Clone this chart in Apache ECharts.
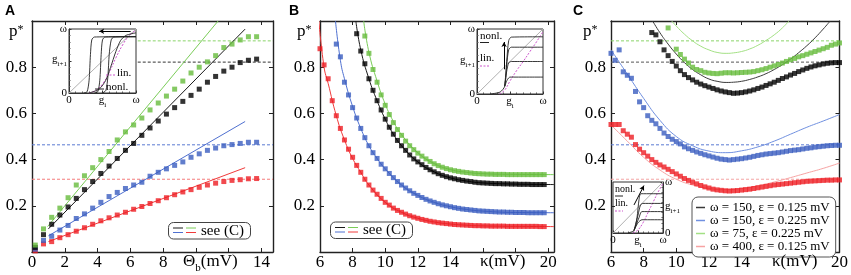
<!DOCTYPE html>
<html>
<head>
<meta charset="utf-8">
<script src="https://cdn.jsdelivr.net/npm/echarts@6/dist/echarts.min.js"></script>
<style>html,body{margin:0;padding:0;background:#fff}#chart{width:851px;height:275px}</style>
</head>
<body>
<div id="chart"></div>
<script>
var myChart = echarts.init(document.getElementById('chart'));
var SERIF = 'Liberation Serif, Times New Roman, DejaVu Serif, serif';

// ---- panel A : p* against Theta_b (mV)
var thetaB = [0.2, 0.7, 1.2, 1.7, 2.2, 2.7, 3.2, 3.7, 4.2, 4.7, 5.2, 5.7, 6.2, 6.7,
              7.2, 7.7, 8.2, 8.7, 9.2, 9.7, 10.2, 10.7, 11.2, 11.7, 12.2, 12.7, 13.2, 13.7];
var aGreen = [0.03, 0.10, 0.15, 0.19, 0.235, 0.29, 0.33, 0.365, 0.40, 0.435, 0.485, 0.52, 0.55, 0.58,
              0.615, 0.645, 0.675, 0.705, 0.74, 0.775, 0.80, 0.823, 0.85, 0.885, 0.90, 0.918, 0.932, 0.932];
var aBlack = [0.02, 0.075, 0.12, 0.16, 0.195, 0.232, 0.27, 0.305, 0.34, 0.372, 0.405, 0.44, 0.47, 0.505,
              0.537, 0.567, 0.597, 0.625, 0.652, 0.678, 0.705, 0.735, 0.76, 0.783, 0.80, 0.82, 0.83, 0.835];
var aBlue  = [0.012, 0.05, 0.068, 0.095, 0.115, 0.145, 0.165, 0.19, 0.215, 0.24, 0.258, 0.275, 0.29, 0.302,
              0.328, 0.345, 0.36, 0.375, 0.39, 0.41, 0.425, 0.44, 0.45, 0.46, 0.465, 0.47, 0.475, 0.475];
var aRed   = [0.005, 0.035, 0.045, 0.062, 0.075, 0.09, 0.105, 0.12, 0.135, 0.148, 0.16, 0.172, 0.185, 0.197,
              0.21, 0.222, 0.235, 0.248, 0.26, 0.27, 0.28, 0.29, 0.298, 0.305, 0.31, 0.313, 0.317, 0.318];
var aGreenFit = [[0.95, 0.11], [11.35, 1.0]];
var aBlackFit = [[1.0, 0.10], [13.0, 0.965]];
var aBlueFit  = [[1.0, 0.07], [13.0, 0.565]];
var aRedFit   = [[1.0, 0.045], [13.0, 0.365]];

// plateau predictions (dashed), order: green, black, blue, red
var levels = [0.914, 0.822, 0.464, 0.315];

// ---- panels B and C : p* against kappa (mV)
var kappa = [6, 6.25, 6.5, 6.75, 7, 7.25, 7.5, 7.75, 8, 8.25, 8.5, 8.75, 9, 9.25, 9.5, 9.75,
             10, 10.25, 10.5, 10.75, 11, 11.25, 11.5, 11.75, 12, 12.25, 12.5, 12.75, 13, 13.25, 13.5, 13.75,
             14, 14.25, 14.5, 14.75, 15, 15.25, 15.5, 15.75, 16, 16.25, 16.5, 16.75, 17, 17.25, 17.5, 17.75,
             18, 18.25, 18.5, 18.75, 19, 19.25, 19.5, 19.75, 20];

var bRed = [0.88, 0.81, 0.75, 0.655, 0.59, 0.535, 0.485, 0.445, 0.41, 0.375,
            0.345, 0.315, 0.29, 0.268, 0.25, 0.232, 0.215, 0.203, 0.19, 0.18,
            0.172, 0.164, 0.157, 0.151, 0.146, 0.141, 0.137, 0.133, 0.13, 0.127,
            0.125, 0.123, 0.121, 0.119, 0.118, 0.117, 0.116, 0.115, 0.114, 0.114,
            0.113, 0.113, 0.112, 0.112, 0.112, 0.112, 0.111, 0.111, 0.111, 0.111,
            0.111, 0.111, 0.111, 0.111, 0.11, 0.11, null];
var bBlue = [null, null, null, null, 0.90, 0.845, 0.735, 0.68, 0.625, 0.58,
             0.535, 0.495, 0.46, 0.43, 0.405, 0.38, 0.36, 0.34, 0.322, 0.305,
             0.29, 0.277, 0.265, 0.254, 0.245, 0.236, 0.228, 0.221, 0.215, 0.209,
             0.204, 0.2, 0.196, 0.192, 0.189, 0.186, 0.184, 0.182, 0.18, 0.178,
             0.177, 0.176, 0.175, 0.174, 0.173, 0.173, 0.172, 0.172, 0.171, 0.171,
             0.171, 0.17, 0.17, 0.17, 0.17, 0.17, null];
var bBlack = [null, null, null, null, null, null, null, null, null, 0.945,
              0.87, 0.815, 0.75, 0.70, 0.655, 0.615, 0.575, 0.54, 0.51, 0.483,
              0.46, 0.44, 0.42, 0.403, 0.39, 0.378, 0.366, 0.356, 0.347, 0.339,
              0.332, 0.326, 0.321, 0.317, 0.313, 0.31, 0.307, 0.305, 0.302, 0.30,
              0.299, 0.298, 0.297, 0.296, 0.296, 0.295, 0.295, 0.294, 0.294, 0.293,
              0.293, 0.293, 0.292, 0.292, 0.292, 0.292, null];
var bGreen = [null, null, null, null, null, null, null, null, null, null,
              null, 0.935, 0.86, 0.79, 0.735, 0.68, 0.635, 0.595, 0.56, 0.53,
              0.505, 0.48, 0.46, 0.443, 0.428, 0.415, 0.403, 0.392, 0.382, 0.374,
              0.367, 0.361, 0.356, 0.352, 0.349, 0.346, 0.344, 0.342, 0.34, 0.339,
              0.338, 0.337, 0.337, 0.336, 0.336, 0.336, 0.335, 0.335, 0.335, 0.335,
              0.335, 0.335, 0.335, 0.335, 0.335, 0.335, null];
var bRedFit   = [[5.93, 1.0], [6.25, 0.8], [6.5, 0.73], [7, 0.59], [7.5, 0.485], [8, 0.405], [8.5, 0.345],
                 [9, 0.29], [10, 0.215], [11, 0.172], [12, 0.146], [13, 0.13], [14, 0.121], [15, 0.116],
                 [16, 0.113], [18, 0.111], [20.35, 0.11]];
var bBlueFit  = [[6.95, 1.0], [7.25, 0.83], [7.5, 0.75], [8, 0.63], [8.5, 0.535], [9, 0.46], [9.5, 0.405],
                 [10, 0.36], [11, 0.29], [12, 0.245], [13, 0.215], [14, 0.196], [15, 0.184], [16, 0.177],
                 [18, 0.171], [20.35, 0.17]];
var bBlackFit = [[8.2, 1.0], [8.5, 0.875], [9, 0.75], [9.5, 0.655], [10, 0.575], [10.5, 0.51], [11, 0.46],
                 [12, 0.39], [13, 0.347], [14, 0.321], [15, 0.307], [16, 0.299], [18, 0.294], [20.35, 0.292]];
var bGreenFit = [[8.68, 1.0], [9, 0.865], [9.5, 0.74], [10, 0.64], [10.5, 0.565], [11, 0.508], [12, 0.43],
                 [13, 0.383], [14, 0.357], [15, 0.345], [16, 0.339], [18, 0.336], [20.35, 0.335]];

var cBlue = [0.86, 0.83, 0.875, 0.78, 0.765, 0.752, 0.695, 0.65, 0.625, 0.59,
             0.57, 0.555, 0.535, 0.515, 0.50, 0.488, 0.478, 0.468, 0.455, 0.447,
             0.44, 0.433, 0.427, 0.421, 0.416, 0.411, 0.406, 0.402, 0.40, 0.398,
             0.40, 0.402, 0.404, 0.407, 0.41, 0.414, 0.418, 0.421, 0.424, 0.426,
             0.428, 0.43, 0.433, 0.436, 0.439, 0.441, 0.443, 0.446, 0.449, 0.451,
             0.454, 0.456, 0.458, 0.46, 0.461, 0.462, 0.462];
var cRed = [0.552, 0.552, 0.552, 0.525, 0.51, 0.497, 0.465, 0.445, 0.43, 0.415,
            0.40, 0.388, 0.377, 0.368, 0.358, 0.348, 0.338, 0.328, 0.318, 0.31,
            0.302, 0.295, 0.288, 0.282, 0.277, 0.272, 0.269, 0.267, 0.265, 0.264,
            0.265, 0.266, 0.268, 0.27, 0.272, 0.275, 0.278, 0.281, 0.284, 0.287,
            0.29, 0.292, 0.294, 0.296, 0.298, 0.30, 0.302, 0.304, 0.306, 0.307,
            0.308, 0.309, 0.31, 0.311, 0.311, 0.312, 0.312];
var cBlack = [null, null, null, null, null, null, null, null, null, null,
              0.95, 0.94, 0.91, 0.875, 0.85, 0.825, 0.805, 0.785, 0.768, 0.755,
              0.745, 0.735, 0.727, 0.72, 0.714, 0.708, 0.702, 0.697, 0.693, 0.69,
              0.687, 0.688, 0.69, 0.693, 0.697, 0.702, 0.708, 0.714, 0.721, 0.728,
              0.735, 0.743, 0.751, 0.758, 0.766, 0.773, 0.781, 0.788, 0.795, 0.801,
              0.806, 0.81, 0.814, 0.817, 0.819, 0.82, 0.82];
var cGreen = [null, null, null, null, null, null, null, null, null, null,
              null, null, null, null, 0.97, null, 0.878, 0.855, 0.835, 0.818,
              0.80, 0.79, 0.785, 0.778, 0.775, 0.773, 0.772, 0.774, 0.776, 0.776,
              0.775, 0.776, 0.777, 0.778, 0.779, 0.781, 0.785, 0.789, 0.794, 0.80,
              0.806, 0.812, 0.818, 0.825, 0.832, 0.838, 0.845, 0.85, 0.856, 0.862,
              0.868, 0.874, 0.88, 0.886, 0.895, 0.90, 0.905];
var cBlackFit = [[8.55, 1.0], [9, 0.949], [9.5, 0.9], [10, 0.857], [10.5, 0.82], [11, 0.79], [11.5, 0.767],
                 [12, 0.749], [12.5, 0.739], [13.1, 0.734], [13.5, 0.735], [14, 0.739], [14.5, 0.747],
                 [15, 0.758], [15.5, 0.772], [16, 0.79], [16.5, 0.811], [17, 0.835], [17.5, 0.863],
                 [18, 0.893], [18.5, 0.927], [19, 0.965], [19.43, 1.0]];
var cGreenFit = [[9.72, 1.0], [10, 0.978], [10.5, 0.943], [11, 0.914], [11.5, 0.891], [12, 0.875], [12.5, 0.864],
                 [13.1, 0.86], [13.5, 0.862], [14, 0.868], [14.5, 0.879], [15, 0.895], [15.5, 0.916],
                 [16, 0.94], [16.5, 0.97], [16.9, 1.0]];
var cBlueFit  = [[6, 0.875], [7, 0.77], [8, 0.665], [9, 0.57], [10, 0.5], [11, 0.46], [12, 0.437], [13, 0.43],
                 [14, 0.438], [15, 0.455], [16, 0.48], [17, 0.51], [18, 0.54], [19, 0.567], [20, 0.595]];
var cRedFit   = [[6, 0.55], [7, 0.48], [8, 0.41], [9, 0.355], [10, 0.315], [11, 0.29], [12, 0.275], [13, 0.27],
                 [14, 0.275], [15, 0.287], [16, 0.303], [17, 0.322], [18, 0.342], [19, 0.362], [20, 0.385]];
var cNames = ['ω = 150, ε = 0.125 mV', 'ω = 150, ε = 0.225 mV', 'ω = 75, ε = 0.225 mV', 'ω = 400, ε = 0.125 mV'];

// ---- insets: transfer maps g_{i+1}(g_i), both axes 0..omega
var diag = [[0, 0], [1, 1]];
var insA = {
  lin: [[0.3, 0], [0.4, 0.04], [0.5, 0.14], [0.6, 0.32], [0.7, 0.55], [0.8, 0.75], [0.9, 0.9], [1, 0.98]],
  nonl: [
    [[0.22, 0], [0.27, 0.02], [0.3, 0.2], [0.32, 0.6], [0.34, 0.83], [0.38, 0.875], [1, 0.88]],
    [[0.38, 0], [0.43, 0.02], [0.46, 0.2], [0.48, 0.6], [0.5, 0.83], [0.54, 0.875], [1, 0.88]],
    [[0.5, 0], [0.55, 0.04], [0.58, 0.25], [0.6, 0.6], [0.63, 0.83], [0.67, 0.875], [1, 0.88]],
    [[0.3, 0], [0.45, 0.06], [0.55, 0.2], [0.62, 0.4], [0.7, 0.65], [0.77, 0.82], [0.85, 0.9], [1, 0.94]]
  ]
};
var insB = {
  lin: [[0.34, 0.0], [0.42, 0.06], [0.5, 0.2], [0.6, 0.36], [0.7, 0.5], [0.8, 0.65], [0.9, 0.8], [1, 0.96]],
  nonl: [
    [[0.2, 0], [0.35, 0.03], [0.42, 0.12], [0.45, 0.5], [0.48, 0.82], [0.52, 0.875], [1, 0.88]],
    [[0.42, 0.12], [0.45, 0.45], [0.48, 0.68], [0.52, 0.72], [1, 0.72]],
    [[0.42, 0.12], [0.45, 0.35], [0.48, 0.48], [0.52, 0.5], [1, 0.5]],
    [[0.42, 0.12], [0.46, 0.22], [0.5, 0.26], [1, 0.26]]
  ]
};
var insC = {
  lin: [[0.4, 0], [0.5, 0.06], [0.6, 0.2], [0.7, 0.4], [0.8, 0.6], [0.9, 0.8], [1, 0.97]],
  nonl: [
    [[0.3, 0], [0.42, 0.05], [0.48, 0.3], [0.52, 0.65], [0.56, 0.77], [1, 0.77]],
    [[0.42, 0.05], [0.5, 0.35], [0.55, 0.55], [0.6, 0.58], [1, 0.58]],
    [[0.42, 0.05], [0.52, 0.3], [0.58, 0.42], [1, 0.42]],
    [[0.42, 0.05], [0.5, 0.2], [0.58, 0.26], [1, 0.26]]
  ]
};

// ---- colours
var dotCol  = { green: '#66bb3c', black: '#000000', blue: '#3a5cbf', red: '#ee1d23' };
var fitCol  = { green: '#7acc58', black: '#1a1a1a', blue: '#4f70d0', red: '#f03a3a' };
var dashCol = { green: '#8ad46a', black: '#333333', blue: '#5a7ad2', red: '#f47a7a' };
var cFitCol = { green: '#a3e084', black: '#3a3a3a', blue: '#7090e0', red: '#f7a3a3' };
var MAG = '#cc55cc';

function pts(xs, ys) {
  var out = [];
  for (var i = 0; i < xs.length; i++) if (ys[i] != null) out.push([xs[i], ys[i]]);
  return out;
}
function dots(xs, ys, color, ax) {
  return { type: 'scatter', xAxisIndex: ax, yAxisIndex: ax, data: pts(xs, ys), symbol: 'rect',
           symbolSize: 5, itemStyle: { color: color }, silent: true, z: 3 };
}
function curve(data, color, ax, extra) {
  var s = { type: 'line', xAxisIndex: ax, yAxisIndex: ax, data: data, symbol: 'none', showSymbol: false,
            smooth: 0.5, silent: true, itemStyle: { color: color },
            lineStyle: { color: color, width: 1 }, z: 2 };
  if (extra) for (var k in extra) s[k] = extra[k];
  return s;
}
function level(y, x0, x1, color, ax) {
  return curve([[x0, y], [x1, y]], color, ax, { smooth: false, lineStyle: { color: color, width: 1, type: [3, 2] } });
}

// ---- axes
var axisColor = '#222';
function mainX(grid, min, max, top) {
  return {
    type: 'value', gridIndex: grid, min: min, max: max, interval: 2, position: top ? 'top' : 'bottom',
    axisLine: { show: true, onZero: false, lineStyle: { color: axisColor, width: 1.4 } },
    axisTick: { show: true, inside: true, length: 4, lineStyle: { color: axisColor } },
    axisLabel: { show: !top, margin: 2, fontSize: 17, fontFamily: SERIF, color: '#000',
      formatter: function (v) {
        if (Math.abs(v - Math.round(v)) > 1e-6) return '';
        if (min === 0 && (v === 10 || v === 12)) return '';
        if (min === 6 && (v === 16 || v === 18)) return '';
        return String(v);
      } },
    splitLine: { show: false }
  };
}
function mainY(grid, right) {
  return {
    type: 'value', gridIndex: grid, min: 0, max: 1, interval: 0.2, position: right ? 'right' : 'left',
    axisLine: { show: true, onZero: false, lineStyle: { color: axisColor, width: 1.4 } },
    axisTick: { show: true, inside: true, length: 4, lineStyle: { color: axisColor } },
    axisLabel: { show: !right, margin: 5, fontSize: 17, fontFamily: SERIF, color: '#000',
      formatter: function (v) { return (v > 0.05 && v < 0.95) ? v.toFixed(1) : ''; } },
    splitLine: { show: false }
  };
}
var subRich = {
  g: { fontSize: 11, fontFamily: SERIF, color: '#000', verticalAlign: 'top', padding: [0, 0, 3, 0] },
  s: { fontSize: 7, fontFamily: SERIF, color: '#000', verticalAlign: 'bottom' }
};
function insetAxis(grid, isY, pos) {
  return {
    type: 'value', gridIndex: grid, min: 0, max: 1, interval: 0.5, position: pos,
    axisLine: { show: true, onZero: false, lineStyle: { color: '#333', width: 1 } },
    axisTick: { show: true, inside: true, length: 2.5, lineStyle: { color: '#333' } },
    minorTick: { show: true, splitNumber: 5, length: 1.5, lineStyle: { color: '#555' } },
    axisLabel: { margin: 2, fontSize: 11, fontFamily: SERIF, color: '#000', rich: subRich,
      formatter: function (v) {
        if (v === 0) return '0';
        if (v === 1) return 'ω';
        return isY ? '{g|g}{s|i+1}' : '{g|g}{s|i}';
      } },
    splitLine: { show: false }
  };
}

// ---- series
var series = [];
// panel A
series.push(level(levels[0], 6.45, 14.7, dashCol.green, 0));
series.push(level(levels[1], 6.45, 14.7, dashCol.black, 0));
series.push(level(levels[2], 0, 14.7, dashCol.blue, 0));
series.push(level(levels[3], 0, 14.7, dashCol.red, 0));
series.push(curve(aGreenFit, fitCol.green, 0, { smooth: false }));
series.push(curve(aBlackFit, fitCol.black, 0, { smooth: false }));
series.push(curve(aBlueFit, fitCol.blue, 0, { smooth: false }));
series.push(curve(aRedFit, fitCol.red, 0, { smooth: false }));
series.push(dots(thetaB, aRed, dotCol.red, 0));
series.push(dots(thetaB, aBlue, dotCol.blue, 0));
series.push(dots(thetaB, aBlack, dotCol.black, 0));
series.push(dots(thetaB, aGreen, dotCol.green, 0));
// panel B
series.push(curve(bRedFit, fitCol.red, 2));
series.push(curve(bBlueFit, fitCol.blue, 2));
series.push(curve(bBlackFit, fitCol.black, 2));
series.push(curve(bGreenFit, fitCol.green, 2));
series.push(dots(kappa, bRed, dotCol.red, 2));
series.push(dots(kappa, bBlue, dotCol.blue, 2));
series.push(dots(kappa, bBlack, dotCol.black, 2));
series.push(dots(kappa, bGreen, dotCol.green, 2));
// panel C
series.push(level(levels[0], 6, 20, dashCol.green, 4));
series.push(level(levels[1], 6, 20, '#555', 4));
series.push(level(levels[2], 6, 20, dashCol.blue, 4));
series.push(level(levels[3], 6, 20, '#f4a5a5', 4));
series.push(curve(cBlackFit, cFitCol.black, 4, { name: cNames[0] }));
series.push(curve(cBlueFit, cFitCol.blue, 4, { name: cNames[1] }));
series.push(curve(cGreenFit, cFitCol.green, 4, { name: cNames[2] }));
series.push(curve(cRedFit, cFitCol.red, 4, { name: cNames[3] }));
series.push(dots(kappa, cRed, dotCol.red, 4));
series.push(dots(kappa, cBlue, dotCol.blue, 4));
series.push(dots(kappa, cBlack, dotCol.black, 4));
series.push(dots(kappa, cGreen, dotCol.green, 4));

// insets
function insetSeries(ins, ax, arrow) {
  series.push(curve(diag, '#b0b0b0', ax, { smooth: false, markLine: {
    silent: true, symbol: ['none', 'arrow'], symbolSize: [4, 5], label: { show: false },
    lineStyle: { color: '#000', type: 'solid', width: 1 }, data: [arrow] } }));
  series.push(curve(ins.lin, MAG, ax, { smooth: 0.4, lineStyle: { color: MAG, width: 1, type: [2, 1.5] } }));
  ins.nonl.forEach(function (c) {
    series.push(curve(c, '#222', ax, { smooth: 0.25, lineStyle: { color: '#222', width: 0.9 } }));
  });
}
insetSeries(insA, 6, [{ coord: [0.92, 0.965] }, { coord: [0.45, 0.965] }]);
insetSeries(insB, 7, [{ coord: [0.41, 0.38] }, { coord: [0.41, 0.8] }]);
insetSeries(insC, 8, [{ coord: [0.42, 0.55] }, { coord: [0.62, 0.93] }]);

// ---- texts and small keys
function txt(x, y, text, size, extra) {
  var st = { text: text, fontSize: size, fontFamily: SERIF, fill: '#000', verticalAlign: 'middle' };
  if (extra) for (var k in extra) st[k] = extra[k];
  return { type: 'text', x: x, y: y, z: 100, style: st };
}
function seg(x1, y1, x2, y2, color, dash) {
  return { type: 'line', z: 100, shape: { x1: x1, y1: y1, x2: x2, y2: y2 },
           style: { stroke: color, lineWidth: 1, lineDash: dash || null } };
}
var pRich = { p: { fontSize: 17, fontFamily: SERIF }, s: { fontSize: 12, fontFamily: SERIF, verticalAlign: 'top' } };
var thRich = { a: { fontSize: 17, fontFamily: SERIF, verticalAlign: 'top', padding: [0, 0, 4, 0] },
               b: { fontSize: 11, fontFamily: SERIF, verticalAlign: 'bottom' } };
var letter = { fontFamily: 'Liberation Sans, Arial, sans-serif', fontWeight: 'bold' };

var graphic = [
  txt(5, 11, 'A', 14, letter), txt(289, 11, 'B', 14, letter), txt(573, 11, 'C', 14, letter),
  txt(9, 32, '{p|p}{s|*}', 17, { rich: pRich }),
  txt(297, 32, '{p|p}{s|*}', 17, { rich: pRich }),
  txt(583, 32, '{p|p}{s|*}', 17, { rich: pRich }),
  txt(183, 253, '{a|Θ}{b|b}{a|(mV)}', 17, { rich: thRich, verticalAlign: 'top' }),
  txt(480, 262, 'κ(mV)', 17), txt(772, 262, 'κ(mV)', 17),
  // "see (C)" keys
  { type: 'rect', z: 99, shape: { x: 168.5, y: 222.5, width: 82, height: 16.5, r: 5 }, style: { fill: '#fff', stroke: '#444', lineWidth: 1 } },
  seg(173, 228, 183, 228, fitCol.black), seg(186, 228, 196, 228, fitCol.green),
  seg(173, 232.5, 183, 232.5, fitCol.blue), seg(186, 232.5, 196, 232.5, fitCol.red),
  txt(201, 231, 'see (C)', 15),
  { type: 'rect', z: 99, shape: { x: 330.5, y: 222, width: 82, height: 16.5, r: 5 }, style: { fill: '#fff', stroke: '#444', lineWidth: 1 } },
  seg(335, 227.5, 345, 227.5, fitCol.black), seg(348, 227.5, 358, 227.5, fitCol.green),
  seg(335, 232, 345, 232, fitCol.blue), seg(348, 232, 358, 232, fitCol.red),
  txt(363, 230.5, 'see (C)', 15),
  // inset keys
  seg(106, 75, 115, 75, MAG, [2, 1.5]), txt(117, 73.5, 'lin.', 11),
  seg(95, 89, 104, 89, '#222'), txt(106, 87.5, 'nonl.', 11),
  txt(480, 36, 'nonl.', 11), seg(480, 42.5, 489, 42.5, '#222'),
  txt(480, 58, 'lin.', 11), seg(480, 66, 489, 66, MAG, [2, 1.5]),
  txt(615, 189.5, 'nonl.', 10), seg(615, 196, 623, 196, '#222'),
  txt(615, 203, 'lin.', 10), seg(615, 211, 623, 211, MAG, [2, 1.5])
];

var option = {
  animation: false,
  backgroundColor: '#fff',
  textStyle: { fontFamily: SERIF },
  grid: [
    { left: 32, top: 21, width: 241, height: 231 },
    { left: 320, top: 21, width: 234, height: 231 },
    { left: 611, top: 21, width: 229, height: 231 },
    { left: 69, top: 29, width: 67, height: 64, show: true, backgroundColor: '#fff', borderColor: '#333', borderWidth: 1 },
    { left: 477, top: 29, width: 66, height: 65, show: true, backgroundColor: '#fff', borderColor: '#333', borderWidth: 1 },
    { left: 613, top: 182, width: 50, height: 51, show: true, backgroundColor: '#fff', borderColor: '#333', borderWidth: 1 }
  ],
  xAxis: [
    mainX(0, 0, 14.7, false), mainX(0, 0, 14.7, true),
    mainX(1, 6, 20.35, false), mainX(1, 6, 20.35, true),
    mainX(2, 6, 20, false), mainX(2, 6, 20, true),
    insetAxis(3, false, 'bottom'), insetAxis(4, false, 'bottom'), insetAxis(5, false, 'bottom')
  ],
  yAxis: [
    mainY(0, false), mainY(0, true),
    mainY(1, false), mainY(1, true),
    mainY(2, false), mainY(2, true),
    insetAxis(3, true, 'left'), insetAxis(4, true, 'left'), insetAxis(5, true, 'right')
  ],
  legend: {
    data: cNames, orient: 'vertical', left: 692, top: 197, padding: [4, 6, 4, 4], itemGap: 0,
    itemWidth: 9, itemHeight: 1.5, icon: 'rect', selectedMode: false,
    borderColor: '#555', borderWidth: 1, borderRadius: 6, backgroundColor: '#fff',
    textStyle: { fontFamily: SERIF, fontSize: 13, color: '#000', lineHeight: 11 }
  },
  graphic: graphic,
  series: series
};

myChart.setOption(option);
</script>
</body>
</html>
